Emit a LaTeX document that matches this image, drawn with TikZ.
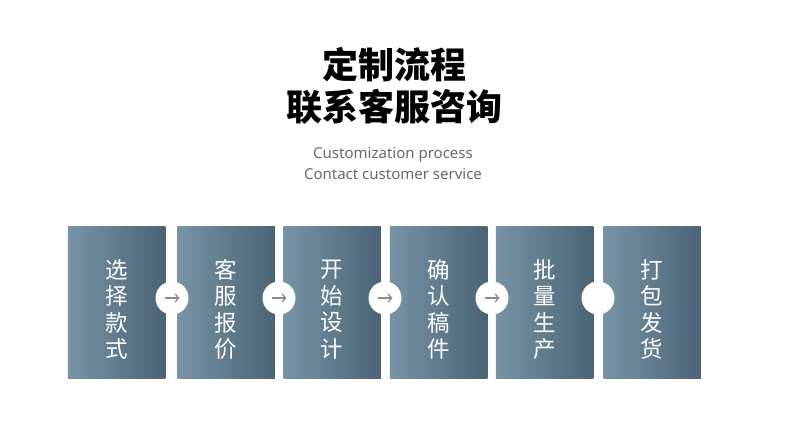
\documentclass[tikz,border=0pt]{standalone}
\usepackage{fontspec}
\setmainfont{Noto Sans}
\newfontfamily\cjk{Noto Sans CJK SC}
\usetikzlibrary{arrows.meta}

\definecolor{boxlight}{HTML}{7793A6}
\definecolor{boxdark}{HTML}{4A6475}
\definecolor{subgray}{HTML}{696969}
\definecolor{arrowgray}{HTML}{8A8A8A}

\begin{document}
\begin{tikzpicture}[
    x=1pt, y=-1pt,
    every node/.style={inner sep=0pt, outer sep=0pt},
    >={Straight Barb[length=3.5pt, width=8pt, line width=1.3pt]},
    stepbox/.style={rectangle, minimum width=97.5pt, minimum height=152pt,
        left color=boxlight, right color=boxdark, draw=none},
    steplabel/.style={text=white, align=center,
        font=\cjk\fontsize{22.5}{26.5}\selectfont},
    joint/.style={circle, fill=white, minimum size=33pt},
    title/.style={font=\cjk\bfseries\fontsize{36}{42}\selectfont},
    subtitle/.style={text=subgray, font=\fontsize{15}{18}\selectfont}
]

% --- Canvas ---
\useasboundingbox[fill=white] (0,0) rectangle (790,435);

% --- Title ---
\node[title] (head1) at (394,65) {定制流程};
\node[title] (head2) at (394,107) {联系客服咨询};
\node[subtitle] (sub1) at (393,155) {Customization process};
\node[subtitle] (sub2) at (393,174) {Contact customer service};

% --- Process steps ---
\foreach \i/\xpos/\txt in {1/116.5/选\\择\\款\\式, 2/226/客\\服\\报\\价,
        3/332/开\\始\\设\\计, 4/438.5/确\\认\\稿\\件,
        5/544.5/批\\量\\生\\产, 6/652/打\\包\\发\\货} {
    \node[stepbox] (b\i) at (\xpos,303) {};
    \node[steplabel] (t\i) at ([yshift=-6.5pt]b\i.center) {\txt};
}

% --- Joints between steps ---
\foreach \i/\xpos in {1/172, 2/279, 3/385, 4/492, 5/598} {
    \node[joint] (c\i) at (\xpos,298) {};
}
\foreach \i in {1,...,4} {
    \draw[->, arrowgray, line width=1.3pt]
        ([xshift=-7.5pt]c\i.center) -- ([xshift=7.5pt]c\i.center);
}

\end{tikzpicture}
\end{document}
